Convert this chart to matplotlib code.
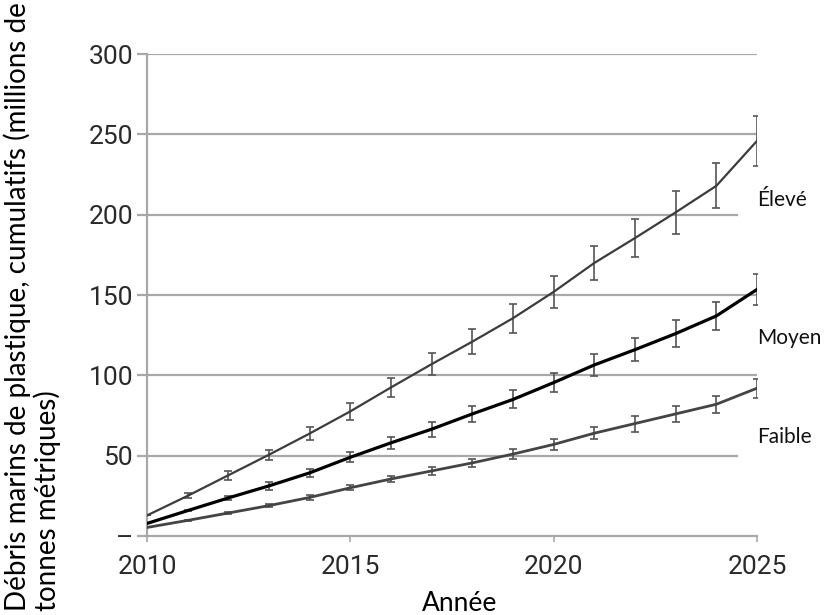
import numpy as np
import matplotlib
matplotlib.use('Agg')
import matplotlib.pyplot as plt

years = np.arange(2010, 2026)

eleve = [12.8, 25, 37.8, 50.6, 63.8, 77.6, 92.5, 107, 121, 135.6, 152, 170, 185.5, 201.5, 218, 246]
eleve_err = [0, 1.5, 2.7, 3, 3.8, 5.2, 6, 6.7, 7.7, 9, 10, 10.5, 12, 13.4, 14, 15.5]

moyen = [7.8, 15.8, 23.7, 31.2, 39.3, 49, 58, 66.5, 76, 85, 95.5, 106.5, 116, 126, 137, 153.5]
moyen_err = [0, 0.5, 1.3, 2.4, 2.6, 3, 3.7, 4.6, 5, 5.6, 6, 7, 7.2, 8.2, 8.7, 9.5]

faible = [5.3, 9.7, 14.3, 18.9, 24, 30, 35.5, 40.5, 45.5, 51, 57, 64, 70, 76, 82, 92]
faible_err = [0, 0.3, 0.5, 1, 1.3, 1.6, 2, 2.3, 2.6, 3.1, 3.6, 3.8, 5, 5.1, 5.2, 6]

yticks = [0, 50, 100, 150, 200, 250, 300]
ytick_labels = ['–', '50', '100', '150', '200', '250', '300']
xticks = [2010, 2015, 2020, 2025]

# grid line right ends (axes fraction), some are cut short by the labels
grid_ends = [1.0, 0.967, 1.0, 1.0, 0.967, 1.0, 1.0]

fig = plt.figure(figsize=(8.26, 6.15), dpi=100)
ax = fig.add_axes([0.178, 0.1285, 0.7385, 0.7835])

grid_col = '#a8a8a8'
for y, xe in zip(yticks[1:], grid_ends[1:]):
	ax.axhline(y, xmin=0, xmax=xe, color=grid_col, lw=1.6, zorder=1)

series = [
	(eleve, eleve_err, '#3c3c3c', 1.6, 'Élevé'),
	(moyen, moyen_err, '#000000', 2.3, 'Moyen'),
	(faible, faible_err, '#444444', 2.0, 'Faible'),
]
for vals, errs, col, lw, name in series:
	ax.plot(years, vals, color=col, lw=lw, zorder=3)
	ax.errorbar(years, vals, yerr=errs, fmt='none', ecolor='#555555',
				elinewidth=1.2, capsize=2.6, capthick=1.2, zorder=2)

label_y = {'Élevé': 209, 'Moyen': 123.5, 'Faible': 61.5}
for name, yv in label_y.items():
	ax.text(2025.0, yv, name, ha='left', va='center', fontsize=15,
			family='Lato', color='#111111', clip_on=False)

ax.set_xlim(2010, 2025)
ax.set_ylim(0, 300)
ax.set_yticks(yticks)
ax.set_yticklabels(ytick_labels)
ax.set_xticks(xticks)
for lab in ax.get_xticklabels() + ax.get_yticklabels():
	lab.set_family('Roboto')
	lab.set_fontsize(19)
	lab.set_color('#2a2a2a')

ax.tick_params(axis='y', length=7, width=1.6, color=grid_col, pad=3)
ax.tick_params(axis='x', length=4, width=1.2, color=grid_col, pad=10)

for s in ['top', 'right']:
	ax.spines[s].set_visible(False)
for s in ['left', 'bottom']:
	ax.spines[s].set_color(grid_col)
	ax.spines[s].set_linewidth(1.6)

fig.text(0.039, 0.502, 'Débris marins de plastique, cumulatifs (millions de\ntonnes métriques)',
		 rotation=90, ha='center', va='center', multialignment='left',
		 fontsize=20, family='Lato', linespacing=1.1)
fig.text(0.557, 0.018, 'Année', ha='center', va='center', fontsize=19, family='Lato')

fig.savefig('out.png', dpi=100)
